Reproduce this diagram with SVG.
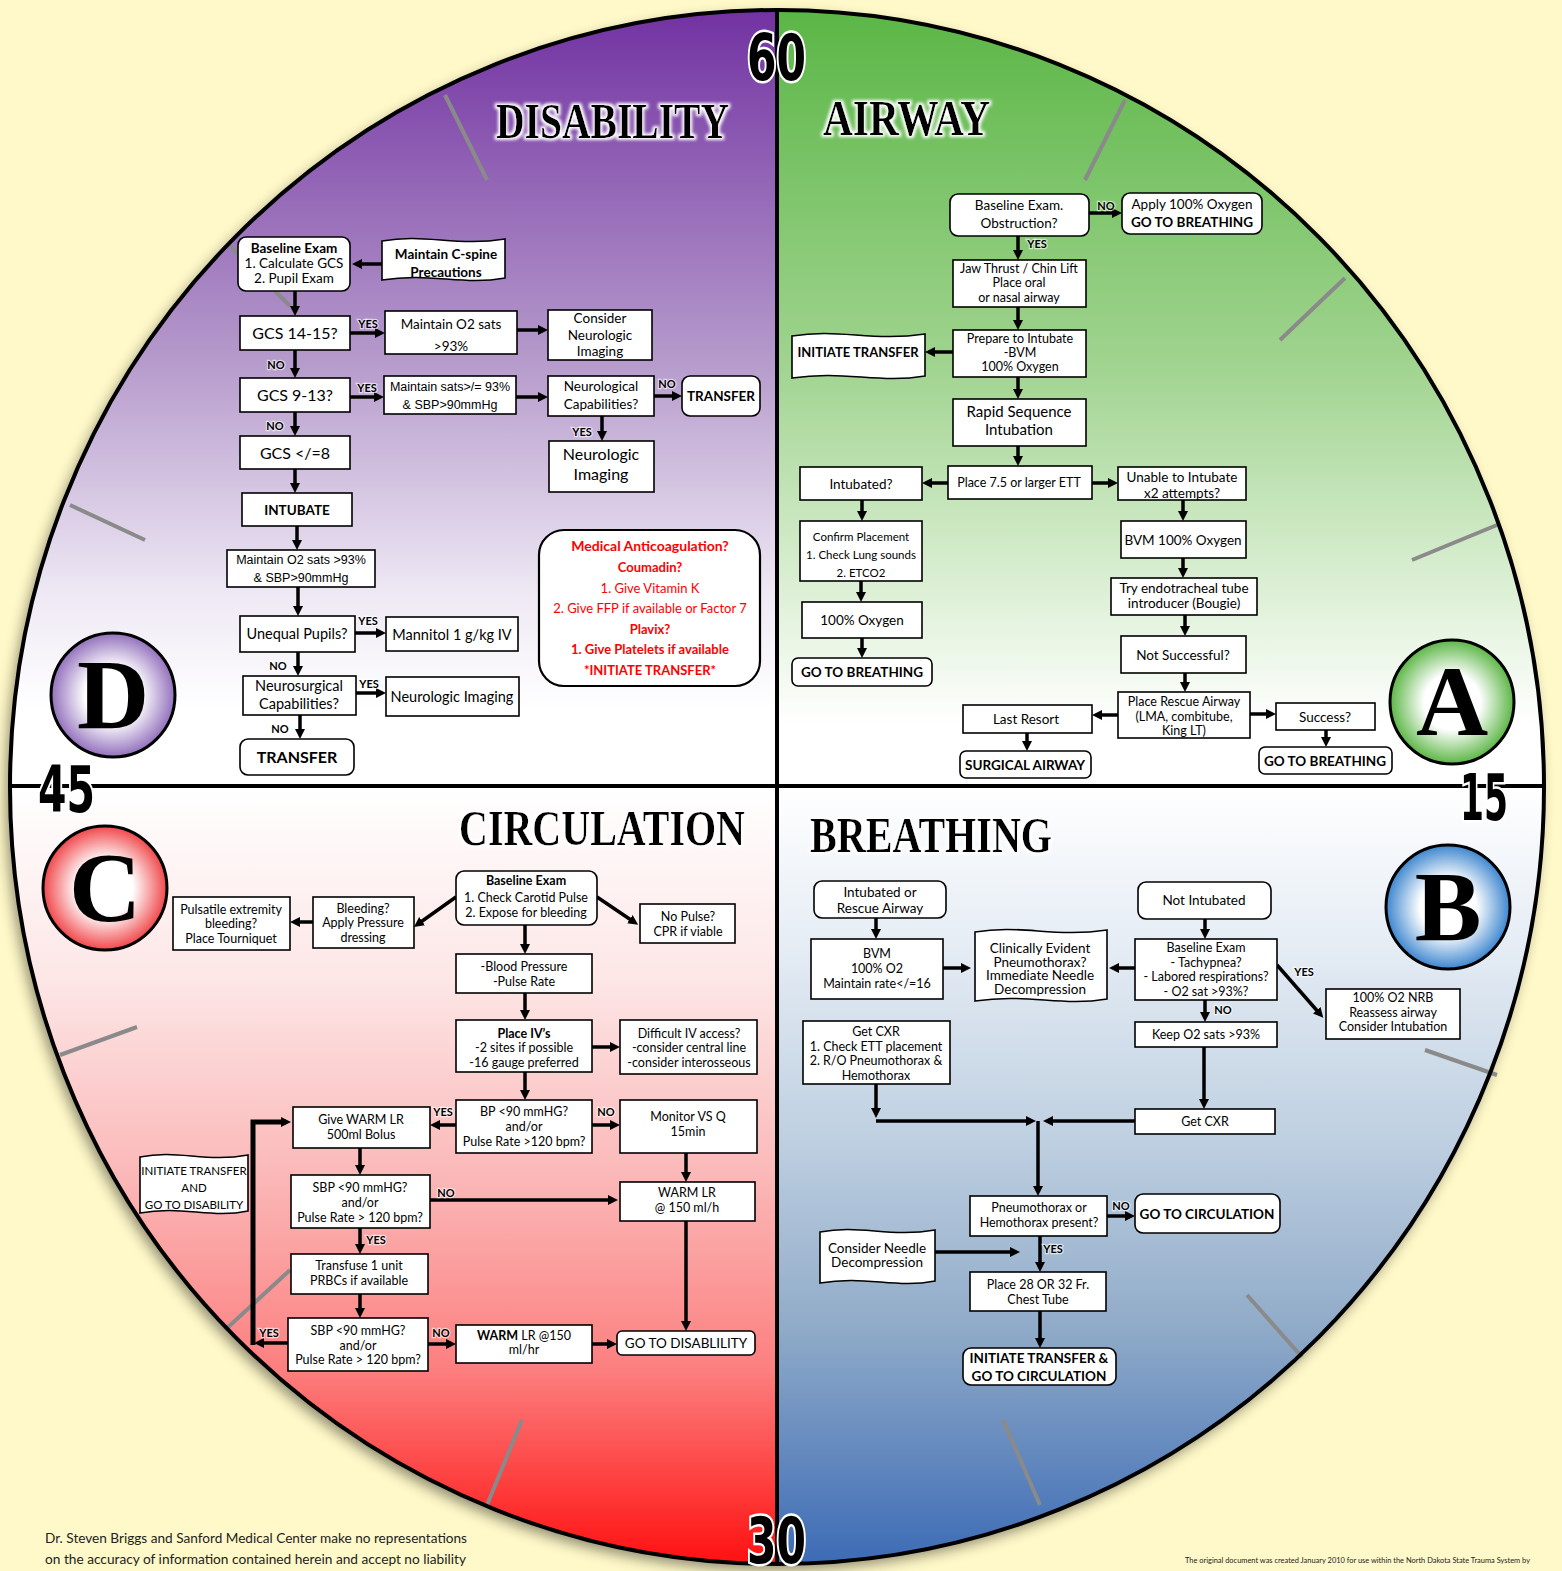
<svg xmlns="http://www.w3.org/2000/svg" width="1562" height="1571" viewBox="0 0 1562 1571">
<style>
.n{fill:#fff;stroke:#000;stroke-width:1.6}
.t{font-family:Lato,"Open Sans",sans-serif;font-size:13px;text-anchor:middle;fill:#000}
.ar{font-family:"Liberation Sans",Arial,sans-serif}
.bd{font-weight:bold}
.lb{font-family:Lato,"Open Sans",sans-serif;font-size:11px;font-weight:bold;text-anchor:middle;fill:#000;stroke:#fff;stroke-width:2.5px;stroke-opacity:.6;paint-order:stroke}
.k{stroke:#000;stroke-width:3.5;fill:none;marker-end:url(#ah)}
.tick{stroke:#8a8a8a;stroke-width:4}
.red{fill:#f00}
.title{font-family:"Liberation Serif","Times New Roman",serif;font-weight:bold;font-size:50px;fill:#000}
.num{font-family:"Liberation Sans Narrow","DejaVu Sans Condensed",sans-serif;font-weight:bold;font-size:64px;fill:#000;stroke:#fff;stroke-width:5px;paint-order:stroke}
.let{font-family:"Liberation Serif","Times New Roman",serif;font-weight:bold;font-size:100px;text-anchor:middle;fill:#000}
.foot{font-family:Lato,"Open Sans",sans-serif;font-size:13px;fill:#222}
</style>
<defs>
<marker id="ah" viewBox="0 0 10 10" refX="5" refY="5" markerWidth="10" markerHeight="10" markerUnits="userSpaceOnUse" orient="auto"><path d="M0,0 L10,5 L0,10 z" fill="#000"/></marker>
<clipPath id="cc"><ellipse cx="777" cy="787" rx="767" ry="777"/></clipPath>
<linearGradient id="gP" gradientUnits="userSpaceOnUse" x1="0" y1="10" x2="0" y2="786"><stop offset="0" stop-color="#7232a2"/><stop offset="0.45" stop-color="#b59acb"/><stop offset="0.75" stop-color="#eee8f4"/><stop offset="0.9" stop-color="#fff"/></linearGradient>
<linearGradient id="gG" gradientUnits="userSpaceOnUse" x1="0" y1="10" x2="0" y2="786"><stop offset="0" stop-color="#5bb646"/><stop offset="0.45" stop-color="#9fd38e"/><stop offset="0.75" stop-color="#ddf0d6"/><stop offset="0.92" stop-color="#fff"/></linearGradient>
<linearGradient id="gR" gradientUnits="userSpaceOnUse" x1="0" y1="786" x2="0" y2="1564"><stop offset="0" stop-color="#fff"/><stop offset="0.25" stop-color="#fde6e6"/><stop offset="0.5" stop-color="#fbb8b8"/><stop offset="0.75" stop-color="#fc7f7f"/><stop offset="1" stop-color="#ff1010"/></linearGradient>
<linearGradient id="gB" gradientUnits="userSpaceOnUse" x1="0" y1="786" x2="0" y2="1564"><stop offset="0" stop-color="#fff"/><stop offset="0.2" stop-color="#e6edf5"/><stop offset="0.45" stop-color="#bfd0e1"/><stop offset="0.7" stop-color="#8faac8"/><stop offset="1" stop-color="#3c6bb5"/></linearGradient>
<radialGradient id="rD"><stop offset="0.45" stop-color="#fff"/><stop offset="1" stop-color="#9270bc"/></radialGradient>
<radialGradient id="rA"><stop offset="0.45" stop-color="#fff"/><stop offset="1" stop-color="#5cb646"/></radialGradient>
<radialGradient id="rC"><stop offset="0.45" stop-color="#fff"/><stop offset="1" stop-color="#f0474a"/></radialGradient>
<radialGradient id="rB"><stop offset="0.45" stop-color="#fff"/><stop offset="1" stop-color="#3d86cf"/></radialGradient>
<filter id="sh" x="-10%" y="-10%" width="120%" height="120%"><feDropShadow dx="-4" dy="6" stdDeviation="7" flood-color="#000" flood-opacity="0.45"/></filter>
<filter id="glow" x="-10%" y="-40%" width="120%" height="180%">
<feMorphology in="SourceAlpha" operator="dilate" radius="1.5" result="d"/>
<feGaussianBlur in="d" stdDeviation="1.5" result="b"/>
<feFlood flood-color="#fff"/>
<feComposite in2="b" operator="in" result="g"/>
<feMerge><feMergeNode in="g"/><feMergeNode in="SourceGraphic"/></feMerge>
</filter>
</defs>

<rect width="1562" height="1571" fill="#fff8c8"/>

<g id="dial">
<ellipse cx="777" cy="787" rx="767" ry="777" fill="#fff" filter="url(#sh)"/>
<g clip-path="url(#cc)">
<rect x="0" y="0" width="777" height="786" fill="url(#gP)"/>
<rect x="777" y="0" width="785" height="786" fill="url(#gG)"/>
<rect x="0" y="786" width="777" height="785" fill="url(#gR)"/>
<rect x="777" y="786" width="785" height="785" fill="url(#gB)"/>
</g>
<g class="tick">
<line x1="445" y1="95" x2="487" y2="180"/>
<line x1="230" y1="246" x2="290" y2="306"/>
<line x1="70" y1="505" x2="145" y2="540"/>
<line x1="1125" y1="100" x2="1085" y2="180"/>
<line x1="1345" y1="278" x2="1280" y2="340"/>
<line x1="1497" y1="525" x2="1412" y2="560"/>
<line x1="1497" y1="1075" x2="1425" y2="1050"/>
<line x1="1302" y1="1357" x2="1247" y2="1295"/>
<line x1="1040" y1="1505" x2="1003" y2="1420"/>
<line x1="487" y1="1505" x2="522" y2="1420"/>
<line x1="225" y1="1330" x2="290" y2="1270"/>
<line x1="60" y1="1055" x2="137" y2="1027"/>
</g>
<ellipse cx="777" cy="787" rx="767" ry="777" fill="none" stroke="#000" stroke-width="4"/>
<line x1="777" y1="10" x2="777" y2="1564" stroke="#000" stroke-width="4"/>
<line x1="10" y1="786" x2="1544" y2="786" stroke="#000" stroke-width="4"/>
</g>

<g id="titles" filter="url(#glow)">
<text class="title" x="496" y="138" textLength="233" lengthAdjust="spacingAndGlyphs">DISABILITY</text>
<text class="title" x="823" y="135" textLength="167" lengthAdjust="spacingAndGlyphs">AIRWAY</text>
<text class="title" x="459" y="845" textLength="286" lengthAdjust="spacingAndGlyphs">CIRCULATION</text>
<text class="title" x="810" y="852" textLength="242" lengthAdjust="spacingAndGlyphs">BREATHING</text>
</g>

<g id="numbers">
<text class="num" x="747" y="80" textLength="59" lengthAdjust="spacingAndGlyphs">60</text>
<text class="num" x="38" y="812" textLength="57" lengthAdjust="spacingAndGlyphs">45</text>
<text class="num" x="1460" y="820" textLength="48" lengthAdjust="spacingAndGlyphs">15</text>
<text class="num" x="747" y="1563" textLength="59" lengthAdjust="spacingAndGlyphs">30</text>
</g>

<g id="letter-D"><circle cx="113" cy="695" r="62" fill="url(#rD)" stroke="#000" stroke-width="3"/><text class="let" x="113" y="728">D</text></g>
<g id="letter-A"><circle cx="1452" cy="702" r="62" fill="url(#rA)" stroke="#000" stroke-width="3"/><text class="let" x="1452" y="735">A</text></g>
<g id="letter-C"><circle cx="105" cy="888" r="62" fill="url(#rC)" stroke="#000" stroke-width="3"/><text class="let" x="105" y="921">C</text></g>
<g id="letter-B"><circle cx="1448" cy="907" r="62" fill="url(#rB)" stroke="#000" stroke-width="3"/><text class="let" x="1448" y="940">B</text></g>

<g id="connectors">
<path class="k" d="M382,264 H357"/>
<path class="k" d="M295,291 V311"/>
<path class="k" d="M350,333 H380"/>
<path class="k" d="M517,330 H543"/>
<path class="k" d="M295,350 V373"/>
<path class="k" d="M350,397 H379"/>
<path class="k" d="M516,397 H543"/>
<path class="k" d="M654,396 H677"/>
<path class="k" d="M602,416 V436"/>
<path class="k" d="M295,412 V431"/>
<path class="k" d="M295,469 V488"/>
<path class="k" d="M297,526 V545"/>
<path class="k" d="M298,587 V611"/>
<path class="k" d="M355,633 H381"/>
<path class="k" d="M298,652 V671"/>
<path class="k" d="M356,693 H381"/>
<path class="k" d="M300,715 V734"/>

<path class="k" d="M1089,213 H1117"/>
<path class="k" d="M1018,236 V255"/>
<path class="k" d="M1018,307 V325"/>
<path class="k" d="M953,352 H930"/>
<path class="k" d="M1018,377 V394"/>
<path class="k" d="M1018,446 V461"/>
<path class="k" d="M948,483 H927"/>
<path class="k" d="M1092,483 H1113"/>
<path class="k" d="M862,500 V516"/>
<path class="k" d="M861,581 V597"/>
<path class="k" d="M862,638 V653"/>
<path class="k" d="M1183,500 V516"/>
<path class="k" d="M1183,558 V573"/>
<path class="k" d="M1185,615 V631"/>
<path class="k" d="M1185,673 V687"/>
<path class="k" d="M1118,715 H1097"/>
<path class="k" d="M1027,733 V746"/>
<path class="k" d="M1250,714 H1271"/>
<path class="k" d="M1326,730 V742"/>

<path class="k" d="M456,897 L418,924"/>
<path class="k" d="M313,922 H295"/>
<path class="k" d="M597,897 L634,922"/>
<path class="k" d="M525,925 V949"/>
<path class="k" d="M525,993 V1015"/>
<path class="k" d="M592,1047 H615"/>
<path class="k" d="M525,1072 V1095"/>
<path class="k" d="M456,1125 H435"/>
<path class="k" d="M592,1125 H615"/>
<path class="k" d="M686,1153 V1177"/>
<path class="k" d="M360,1148 V1170"/>
<path class="k" d="M430,1200 H613"/>
<path class="k" d="M360,1228 V1249"/>
<path class="k" d="M360,1294 V1313"/>
<path class="k" d="M288,1343 H259"/>
<path class="k" d="M253,1345 V1122 H286" style="stroke-width:5"/>
<path class="k" d="M428,1344 H451"/>
<path class="k" d="M592,1344 H612"/>
<path class="k" d="M686,1221 V1326"/>

<path class="k" d="M876,918 V934"/>
<path class="k" d="M943,968 H966"/>
<path class="k" d="M1135,968 H1114"/>
<path class="k" d="M1205,919 V934"/>
<path class="k" d="M1277,965 L1320,1014"/>
<path class="k" d="M1205,1000 V1017"/>
<path class="k" d="M1204,1047 V1104"/>
<path class="k" d="M876,1084 V1113"/>
<path class="k" d="M876,1121 H1031"/>
<path class="k" d="M1135,1121 H1048"/>
<path class="k" d="M1038,1121 V1191"/>
<path class="k" d="M1107,1216 H1130"/>
<path class="k" d="M1040,1236 V1267"/>
<path class="k" d="M935,1252 H1015"/>
<path class="k" d="M1040,1311 V1343"/>
</g>

<g id="labels">
<text class="lb" x="368" y="328">YES</text>
<text class="lb" x="276" y="369">NO</text>
<text class="lb" x="367" y="392">YES</text>
<text class="lb" x="667" y="388">NO</text>
<text class="lb" x="582" y="436">YES</text>
<text class="lb" x="275" y="430">NO</text>
<text class="lb" x="368" y="625">YES</text>
<text class="lb" x="278" y="670">NO</text>
<text class="lb" x="369" y="688">YES</text>
<text class="lb" x="280" y="733">NO</text>
<text class="lb" x="1106" y="210">NO</text>
<text class="lb" x="1037" y="248">YES</text>
<text class="lb" x="443" y="1116">YES</text>
<text class="lb" x="606" y="1116">NO</text>
<text class="lb" x="446" y="1197">NO</text>
<text class="lb" x="376" y="1244">YES</text>
<text class="lb" x="269" y="1337">YES</text>
<text class="lb" x="441" y="1337">NO</text>
<text class="lb" x="1304" y="976">YES</text>
<text class="lb" x="1223" y="1014">NO</text>
<text class="lb" x="1121" y="1210">NO</text>
<text class="lb" x="1053" y="1253">YES</text>
</g>

<!-- DISABILITY -->
<g id="d-baseline"><rect class="n" x="238" y="237" width="112" height="54" rx="8"/><text class="t" x="294" style="font-size:13.5px"><tspan class="bd" x="294" y="253">Baseline Exam</tspan><tspan x="294" y="268">1. Calculate GCS</tspan><tspan x="294" y="283">2. Pupil Exam</tspan></text></g>
<g id="d-cspine"><path class="n" d="M382,241 C425,233 456,247 505,239 L505,278 C462,286 431,272 382,280 Z"/><text class="t bd" style="font-size:13.5px"><tspan x="446" y="259">Maintain C-spine</tspan><tspan x="446" y="277">Precautions</tspan></text></g>
<g id="d-gcs1415"><rect class="n" x="240" y="316" width="110" height="34"/><text class="t" x="295" y="339" style="font-size:16px">GCS 14-15?</text></g>
<g id="d-o2"><rect class="n" x="385" y="311" width="132" height="43"/><text class="t" style="font-size:13.5px"><tspan x="451" y="329">Maintain O2 sats</tspan><tspan x="451" y="351">&gt;93%</tspan></text></g>
<g id="d-consider"><rect class="n" x="548" y="310" width="104" height="50"/><text class="t" style="font-size:13.5px"><tspan x="600" y="323">Consider</tspan><tspan x="600" y="340">Neurologic</tspan><tspan x="600" y="356">Imaging</tspan></text></g>
<g id="d-gcs913"><rect class="n" x="240" y="378" width="110" height="34"/><text class="t" x="295" y="401" style="font-size:16px">GCS 9-13?</text></g>
<g id="d-sats"><rect class="n" x="384" y="376" width="132" height="38"/><text class="t ar" style="font-size:12.5px"><tspan x="450" y="391">Maintain sats&gt;/= 93%</tspan><tspan x="450" y="409">&amp; SBP&gt;90mmHg</tspan></text></g>
<g id="d-neurocap"><rect class="n" x="548" y="376" width="106" height="40"/><text class="t" style="font-size:13.5px"><tspan x="601" y="391">Neurological</tspan><tspan x="601" y="409">Capabilities?</tspan></text></g>
<g id="d-transfer1"><rect class="n" x="682" y="376" width="78" height="40" rx="8"/><text class="t bd" x="721" y="401" style="font-size:13.5px">TRANSFER</text></g>
<g id="d-neuroimg1"><rect class="n" x="549" y="441" width="105" height="51"/><text class="t" style="font-size:16px"><tspan x="601" y="460">Neurologic</tspan><tspan x="601" y="480">Imaging</tspan></text></g>
<g id="d-gcs8"><rect class="n" x="240" y="436" width="110" height="33"/><text class="t" x="295" y="459" style="font-size:16px">GCS &lt;/=8</text></g>
<g id="d-intubate"><rect class="n" x="242" y="493" width="110" height="33"/><text class="t bd" x="297" y="515" style="font-size:13.5px">INTUBATE</text></g>
<g id="d-maintain"><rect class="n" x="227" y="550" width="148" height="37"/><text class="t ar" style="font-size:12.5px"><tspan x="301" y="564">Maintain O2 sats &gt;93%</tspan><tspan x="301" y="582">&amp; SBP&gt;90mmHg</tspan></text></g>
<g id="d-pupils"><rect class="n" x="240" y="616" width="115" height="36"/><text class="t" x="297" y="639" style="font-size:14.5px">Unequal Pupils?</text></g>
<g id="d-mannitol"><rect class="n" x="386" y="617" width="132" height="34"/><text class="t" x="452" y="640" style="font-size:14.5px">Mannitol 1 g/kg IV</text></g>
<g id="d-neurosurg"><rect class="n" x="243" y="676" width="113" height="39"/><text class="t" style="font-size:14.5px"><tspan x="299" y="691">Neurosurgical</tspan><tspan x="299" y="709">Capabilities?</tspan></text></g>
<g id="d-neuroimg2"><rect class="n" x="386" y="677" width="133" height="39"/><text class="t" x="452" y="702" style="font-size:14.5px">Neurologic Imaging</text></g>
<g id="d-transfer2"><rect class="n" x="240" y="739" width="114" height="36" rx="8"/><text class="t bd" x="297" y="763" style="font-size:16px">TRANSFER</text></g>
<g id="d-anticoag"><rect class="n" x="539" y="530" width="221" height="156" rx="25" style="stroke-width:2.2"/>
<text class="t red" style="font-size:13px"><tspan class="bd" x="650" y="551" style="font-size:14px">Medical Anticoagulation?</tspan><tspan class="bd" x="650" y="572">Coumadin?</tspan><tspan x="650" y="593">1. Give Vitamin K</tspan><tspan x="650" y="613">2. Give FFP if available or Factor 7</tspan><tspan class="bd" x="650" y="634">Plavix?</tspan><tspan class="bd" x="650" y="654">1. Give Platelets if available</tspan><tspan class="bd" x="650" y="675">*INITIATE TRANSFER*</tspan></text></g>

<!-- AIRWAY -->
<g id="a-baseline"><rect class="n" x="950" y="194" width="139" height="42" rx="8"/><text class="t" style="font-size:13.5px"><tspan x="1019" y="210">Baseline Exam.</tspan><tspan x="1019" y="228">Obstruction?</tspan></text></g>
<g id="a-apply"><rect class="n" x="1122" y="193" width="140" height="41" rx="8"/><text class="t" style="font-size:13.5px"><tspan x="1192" y="209">Apply 100% Oxygen</tspan><tspan class="bd" x="1192" y="227">GO TO BREATHING</tspan></text></g>
<g id="a-jaw"><rect class="n" x="953" y="260" width="133" height="47"/><text class="t" style="font-size:12.5px"><tspan x="1019" y="273">Jaw Thrust / Chin Lift</tspan><tspan x="1019" y="287">Place oral</tspan><tspan x="1019" y="302">or nasal airway</tspan></text></g>
<g id="a-prepare"><rect class="n" x="953" y="330" width="133" height="47"/><text class="t" style="font-size:12.5px"><tspan x="1020" y="343">Prepare to Intubate</tspan><tspan x="1020" y="357">-BVM</tspan><tspan x="1020" y="371">100% Oxygen</tspan></text></g>
<g id="a-initiate"><path class="n" d="M792,336 C839,328 872,342 925,334 L925,376 C878,384 845,370 792,378 Z"/><text class="t bd" x="858" y="357" style="font-size:13px">INITIATE TRANSFER</text></g>
<g id="a-rsi"><rect class="n" x="953" y="399" width="133" height="47"/><text class="t" style="font-size:15px"><tspan x="1019" y="417">Rapid Sequence</tspan><tspan x="1019" y="435">Intubation</tspan></text></g>
<g id="a-ett"><rect class="n" x="948" y="466" width="144" height="33"/><text class="t" x="1019" y="487" style="font-size:12.5px">Place 7.5 or larger ETT</text></g>
<g id="a-intubated"><rect class="n" x="800" y="467" width="122" height="33"/><text class="t" x="861" y="489" style="font-size:13.5px">Intubated?</text></g>
<g id="a-unable"><rect class="n" x="1118" y="467" width="128" height="33"/><text class="t" style="font-size:13.5px"><tspan x="1182" y="482">Unable to Intubate</tspan><tspan x="1182" y="498">x2 attempts?</tspan></text></g>
<g id="a-confirm"><rect class="n" x="800" y="521" width="122" height="60"/><text class="t" style="font-size:11.5px"><tspan x="861" y="541">Confirm Placement</tspan><tspan x="861" y="559">1. Check Lung sounds</tspan><tspan x="861" y="577">2. ETCO2</tspan></text></g>
<g id="a-oxygen"><rect class="n" x="802" y="602" width="120" height="36"/><text class="t" x="862" y="625" style="font-size:13.5px">100% Oxygen</text></g>
<g id="a-gtb1"><rect class="n" x="792" y="658" width="140" height="28" rx="6"/><text class="t bd" x="862" y="677" style="font-size:13.5px">GO TO BREATHING</text></g>
<g id="a-bvm"><rect class="n" x="1121" y="521" width="125" height="37"/><text class="t" x="1183" y="545" style="font-size:13.5px">BVM 100% Oxygen</text></g>
<g id="a-bougie"><rect class="n" x="1111" y="578" width="146" height="37"/><text class="t" style="font-size:13.5px"><tspan x="1184" y="593">Try endotracheal tube</tspan><tspan x="1184" y="608">introducer (Bougie)</tspan></text></g>
<g id="a-notsucc"><rect class="n" x="1121" y="636" width="125" height="37"/><text class="t" x="1183" y="660" style="font-size:13.5px">Not Successful?</text></g>
<g id="a-rescue"><rect class="n" x="1118" y="692" width="132" height="46"/><text class="t" style="font-size:12.5px"><tspan x="1184" y="706">Place Rescue Airway</tspan><tspan x="1184" y="721">(LMA, combitube,</tspan><tspan x="1184" y="735">King LT)</tspan></text></g>
<g id="a-last"><rect class="n" x="963" y="705" width="129" height="28"/><text class="t" x="1026" y="724" style="font-size:13.5px">Last Resort</text></g>
<g id="a-surgical"><rect class="n" x="960" y="751" width="131" height="27" rx="6"/><text class="t bd" x="1025" y="770" style="font-size:13.5px">SURGICAL AIRWAY</text></g>
<g id="a-success"><rect class="n" x="1276" y="703" width="99" height="27"/><text class="t" x="1325" y="722" style="font-size:13.5px">Success?</text></g>
<g id="a-gtb2"><rect class="n" x="1259" y="747" width="133" height="27" rx="6"/><text class="t bd" x="1325" y="766" style="font-size:13.5px">GO TO BREATHING</text></g>

<!-- CIRCULATION -->
<g id="c-baseline"><rect class="n" x="456" y="871" width="141" height="54" rx="8"/><text class="t" style="font-size:12.5px"><tspan class="bd" x="526" y="885">Baseline Exam</tspan><tspan x="526" y="902">1. Check Carotid Pulse</tspan><tspan x="526" y="917">2. Expose for bleeding</tspan></text></g>
<g id="c-bleeding"><rect class="n" x="313" y="897" width="101" height="51"/><text class="t" style="font-size:12.5px"><tspan x="363" y="913">Bleeding?</tspan><tspan x="363" y="927">Apply Pressure</tspan><tspan x="363" y="942">dressing</tspan></text></g>
<g id="c-pulsatile"><rect class="n" x="173" y="897" width="117" height="53"/><text class="t" style="font-size:12.5px"><tspan x="231" y="914">Pulsatile extremity</tspan><tspan x="231" y="928">bleeding?</tspan><tspan x="231" y="943">Place Tourniquet</tspan></text></g>
<g id="c-nopulse"><rect class="n" x="640" y="904" width="95" height="39"/><text class="t" style="font-size:12.5px"><tspan x="688" y="921">No Pulse?</tspan><tspan x="688" y="936">CPR if viable</tspan></text></g>
<g id="c-bp"><rect class="n" x="456" y="954" width="136" height="39"/><text class="t" style="font-size:12.5px"><tspan x="524" y="971">-Blood Pressure</tspan><tspan x="524" y="986">-Pulse Rate</tspan></text></g>
<g id="c-iv"><rect class="n" x="456" y="1020" width="136" height="52"/><text class="t" style="font-size:12.5px"><tspan class="bd" x="524" y="1038">Place IV’s</tspan><tspan x="524" y="1052">-2 sites if possible</tspan><tspan x="524" y="1067">-16 gauge preferred</tspan></text></g>
<g id="c-difficult"><rect class="n" x="620" y="1020" width="137" height="54"/><text class="t" style="font-size:12.5px"><tspan x="689" y="1038">Difficult IV access?</tspan><tspan x="689" y="1052">-consider central line</tspan><tspan x="689" y="1067">-consider interosseous</tspan></text></g>
<g id="c-bp90"><rect class="n" x="456" y="1100" width="136" height="53"/><text class="t" style="font-size:12.5px"><tspan x="524" y="1116">BP &lt;90 mmHG?</tspan><tspan x="524" y="1131">and/or</tspan><tspan x="524" y="1146">Pulse Rate &gt;120 bpm?</tspan></text></g>
<g id="c-give"><rect class="n" x="293" y="1107" width="137" height="41"/><text class="t" style="font-size:12.5px"><tspan x="361" y="1124">Give WARM LR</tspan><tspan x="361" y="1139">500ml Bolus</tspan></text></g>
<g id="c-monitor"><rect class="n" x="620" y="1100" width="137" height="53"/><text class="t" style="font-size:12.5px"><tspan x="688" y="1121">Monitor VS Q</tspan><tspan x="688" y="1136">15min</tspan></text></g>
<g id="c-warm150"><rect class="n" x="620" y="1182" width="135" height="39"/><text class="t" style="font-size:12.5px"><tspan x="687" y="1197">WARM LR</tspan><tspan x="687" y="1212">@ 150 ml/h</tspan></text></g>
<g id="c-sbp1"><rect class="n" x="291" y="1175" width="139" height="53"/><text class="t" style="font-size:12.5px"><tspan x="360" y="1192">SBP &lt;90 mmHG?</tspan><tspan x="360" y="1207">and/or</tspan><tspan x="360" y="1222">Pulse Rate &gt; 120 bpm?</tspan></text></g>
<g id="c-transfuse"><rect class="n" x="291" y="1254" width="137" height="40"/><text class="t" style="font-size:12.5px"><tspan x="359" y="1270">Transfuse 1 unit</tspan><tspan x="359" y="1285">PRBCs if available</tspan></text></g>
<g id="c-sbp2"><rect class="n" x="288" y="1318" width="140" height="53"/><text class="t" style="font-size:12.5px"><tspan x="358" y="1335">SBP &lt;90 mmHG?</tspan><tspan x="358" y="1350">and/or</tspan><tspan x="358" y="1364">Pulse Rate &gt; 120 bpm?</tspan></text></g>
<g id="c-warmlr"><rect class="n" x="456" y="1325" width="136" height="38"/><text class="t" style="font-size:12.5px"><tspan x="524" y="1340"><tspan class="bd">WARM</tspan> LR @150</tspan><tspan x="524" y="1354">ml/hr</tspan></text></g>
<g id="c-gtd"><rect class="n" x="617" y="1331" width="138" height="24" rx="5"/><text class="t" x="686" y="1348" style="font-size:13.5px">GO TO DISABLILITY</text></g>
<g id="c-initiate"><path class="n" d="M140,1157 C178,1149 205,1163 248,1155 L248,1211 C210,1219 183,1205 140,1213 Z"/><text class="t" style="font-size:11.5px"><tspan x="194" y="1175">INITIATE TRANSFER</tspan><tspan x="194" y="1192">AND</tspan><tspan x="194" y="1209">GO TO DISABILITY</tspan></text></g>

<!-- BREATHING -->
<g id="b-intub"><rect class="n" x="814" y="881" width="132" height="37" rx="8"/><text class="t" style="font-size:13.5px"><tspan x="880" y="897">Intubated or</tspan><tspan x="880" y="913">Rescue Airway</tspan></text></g>
<g id="b-bvm"><rect class="n" x="811" y="939" width="132" height="60"/><text class="t" style="font-size:12.5px"><tspan x="877" y="958">BVM</tspan><tspan x="877" y="973">100% O2</tspan><tspan x="877" y="988">Maintain rate&lt;/=16</tspan></text></g>
<g id="b-clin"><path class="n" d="M975,932 C1021,924 1054,938 1107,930 L1107,999 C1061,1007 1028,993 975,1001 Z"/><text class="t" style="font-size:13.5px"><tspan x="1040" y="953">Clinically Evident</tspan><tspan x="1040" y="967">Pneumothorax?</tspan><tspan x="1040" y="980">Immediate Needle</tspan><tspan x="1040" y="994">Decompression</tspan></text></g>
<g id="b-notintub"><rect class="n" x="1138" y="882" width="133" height="37" rx="8"/><text class="t" x="1204" y="905" style="font-size:13.5px">Not Intubated</text></g>
<g id="b-baseline"><rect class="n" x="1135" y="939" width="142" height="61"/><text class="t" style="font-size:12.5px"><tspan x="1206" y="952">Baseline Exam</tspan><tspan x="1206" y="967">- Tachypnea?</tspan><tspan x="1206" y="981">- Labored respirations?</tspan><tspan x="1206" y="996">- O2 sat &gt;93%?</tspan></text></g>
<g id="b-nrb"><rect class="n" x="1326" y="989" width="134" height="50"/><text class="t" style="font-size:12.5px"><tspan x="1393" y="1002">100% O2 NRB</tspan><tspan x="1393" y="1017">Reassess airway</tspan><tspan x="1393" y="1031">Consider Intubation</tspan></text></g>
<g id="b-keep"><rect class="n" x="1135" y="1022" width="142" height="25"/><text class="t" x="1206" y="1039" style="font-size:12.5px">Keep O2 sats &gt;93%</text></g>
<g id="b-cxr2"><rect class="n" x="1135" y="1109" width="140" height="25"/><text class="t" x="1205" y="1126" style="font-size:12.5px">Get CXR</text></g>
<g id="b-cxr1"><rect class="n" x="803" y="1021" width="147" height="63"/><text class="t" style="font-size:12.5px"><tspan x="876" y="1036">Get CXR</tspan><tspan x="876" y="1051">1. Check ETT placement</tspan><tspan x="876" y="1065">2. R/O Pneumothorax &amp;</tspan><tspan x="876" y="1080">Hemothorax</tspan></text></g>
<g id="b-pneumo"><rect class="n" x="970" y="1196" width="137" height="40"/><text class="t" style="font-size:12.5px"><tspan x="1039" y="1212">Pneumothorax or</tspan><tspan x="1039" y="1227">Hemothorax present?</tspan></text></g>
<g id="b-gtc"><rect class="n" x="1135" y="1194" width="145" height="39" rx="8"/><text class="t bd" x="1207" y="1219" style="font-size:13.5px">GO TO CIRCULATION</text></g>
<g id="b-needle"><path class="n" d="M820,1232 C860,1224 889,1238 935,1230 L935,1281 C895,1289 866,1275 820,1283 Z"/><text class="t" style="font-size:13.5px"><tspan x="877" y="1253">Consider Needle</tspan><tspan x="877" y="1267">Decompression</tspan></text></g>
<g id="b-chest"><rect class="n" x="970" y="1272" width="136" height="39"/><text class="t" style="font-size:12.5px"><tspan x="1038" y="1289">Place 28 OR 32 Fr.</tspan><tspan x="1038" y="1304">Chest Tube</tspan></text></g>
<g id="b-initiate"><rect class="n" x="963" y="1348" width="153" height="37" rx="8"/><text class="t bd" style="font-size:13.5px"><tspan x="1039" y="1363">INITIATE TRANSFER &amp;</tspan><tspan x="1039" y="1381">GO TO CIRCULATION</tspan></text></g>

<g id="footer">
<text class="foot" x="45" y="1543" textLength="422" lengthAdjust="spacingAndGlyphs">Dr. Steven Briggs and Sanford Medical Center make no representations</text>
<text class="foot" x="45" y="1564" textLength="421" lengthAdjust="spacingAndGlyphs">on the accuracy of information contained herein and accept no liability</text>
<text class="foot" x="1185" y="1563" style="font-size:7.5px" textLength="345" lengthAdjust="spacingAndGlyphs">The original document was created January 2010 for use within the North Dakota State Trauma System by</text>
</g>
</svg>
